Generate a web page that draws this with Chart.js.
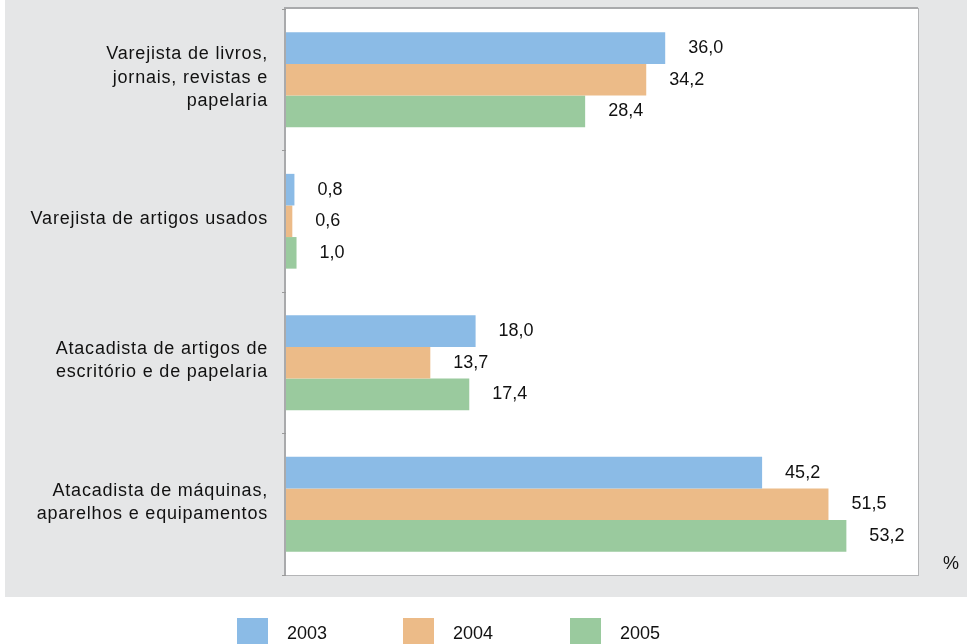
<!DOCTYPE html>
<html><head><meta charset="utf-8">
<script src="https://cdn.jsdelivr.net/npm/chart.js@4/dist/chart.umd.min.js"></script>
<style>html,body{margin:0;padding:0;background:#fff}#w{width:967px;height:644px;position:relative}</style>
</head><body><div id="w"><canvas id="c"></canvas></div>
<script>
const categories = [
  ["Varejista de livros,", "jornais, revistas e", "papelaria"],
  ["Varejista de artigos usados"],
  ["Atacadista de artigos de", "escritório e de papelaria"],
  ["Atacadista de máquinas,", "aparelhos e equipamentos"]
];
const seriesNames = ["2003", "2004", "2005"];
const values2003 = [36.0, 0.8, 18.0, 45.2];
const values2004 = [34.2, 0.6, 13.7, 51.5];
const values2005 = [28.4, 1.0, 17.4, 53.2];
const colors = ["#8bbbe6", "#ecbb88", "#9aca9e"];
const unitLabel = "%";
const FONT = "'Liberation Sans', Arial, sans-serif";

const fmt = v => v.toFixed(1).replace('.', ',');
const setLS = chart => { try { chart.ctx.letterSpacing = '0.8px'; } catch (e) {} };

const bgPlugin = {
  id: 'bg',
  beforeUpdate: setLS,
  beforeLayout: setLS,
  beforeDraw(chart) {
    setLS(chart);
    const {ctx, chartArea: a} = chart;
    ctx.save();
    ctx.fillStyle = '#e5e6e7';
    ctx.fillRect(5, 0, chart.width - 5, 597);
    ctx.fillStyle = '#ffffff';
    ctx.fillRect(a.left, a.top, a.right - a.left, a.bottom - a.top);
    ctx.strokeStyle = '#b4b5b7';
    ctx.lineWidth = 1;
    ctx.strokeRect(a.left - 0.5, a.top - 0.5, a.right - a.left + 1, a.bottom - a.top + 1);
    ctx.strokeStyle = '#a9aaac';
    ctx.lineWidth = 2;
    ctx.beginPath();
    ctx.moveTo(a.left - 1, a.bottom);
    ctx.lineTo(a.left - 1, a.top - 1);
    ctx.lineTo(a.right, a.top - 1);
    ctx.stroke();
    ctx.restore();
  },
  afterDatasetsDraw(chart) {
    const {ctx} = chart;
    ctx.save();
    try { ctx.letterSpacing = '0px'; } catch (e) {}
    ctx.font = "18px " + FONT;
    ctx.fillStyle = '#111';
    ctx.textBaseline = 'middle';
    ctx.textAlign = 'left';
    chart.data.datasets.forEach((ds, i) => {
      const meta = chart.getDatasetMeta(i);
      meta.data.forEach((bar, j) => {
        ctx.fillText(fmt(ds.data[j]), bar.x + 23, bar.y);
      });
    });
    ctx.fillText(unitLabel, 943, 564);
    // legend
    const xs = [237, 403, 570];
    chart.data.datasets.forEach((ds, i) => {
      ctx.fillStyle = ds.backgroundColor;
      ctx.fillRect(xs[i], 618, 31, 31);
      ctx.fillStyle = '#111';
      ctx.fillText(ds.label, xs[i] + 50, 634);
    });
    ctx.restore();
  }
};

new Chart(document.getElementById('c'), {
  type: 'bar',
  data: {
    labels: categories,
    datasets: [
      {label: seriesNames[0], data: values2003, backgroundColor: colors[0]},
      {label: seriesNames[1], data: values2004, backgroundColor: colors[1]},
      {label: seriesNames[2], data: values2005, backgroundColor: colors[2]}
    ]
  },
  options: {
    indexAxis: 'y',
    responsive: true,
    maintainAspectRatio: false,
    animation: false,
    devicePixelRatio: 1,
    layout: {padding: {left: 0, right: 49, top: 9, bottom: 69}},
    datasets: {bar: {categoryPercentage: 0.67, barPercentage: 1.0, borderWidth: 0}},
    plugins: {legend: {display: false}, tooltip: {enabled: false}},
    scales: {
      x: {
        min: 0, max: 60,
        display: false
      },
      y: {
        offset: true,
        afterFit(s) { s.width = 286; s.paddingTop = 0; s.paddingBottom = 0; },
        border: {display: false},
        grid: {display: true, drawOnChartArea: false, tickLength: 4, color: '#9a9a9a', offset: true},
        ticks: {
          color: '#111',
          padding: 14,
          labelOffset: -2,
          font: {family: FONT, size: 18, lineHeight: 1.3}
        }
      }
    }
  },
  plugins: [bgPlugin]
});
</script>
</body></html>
